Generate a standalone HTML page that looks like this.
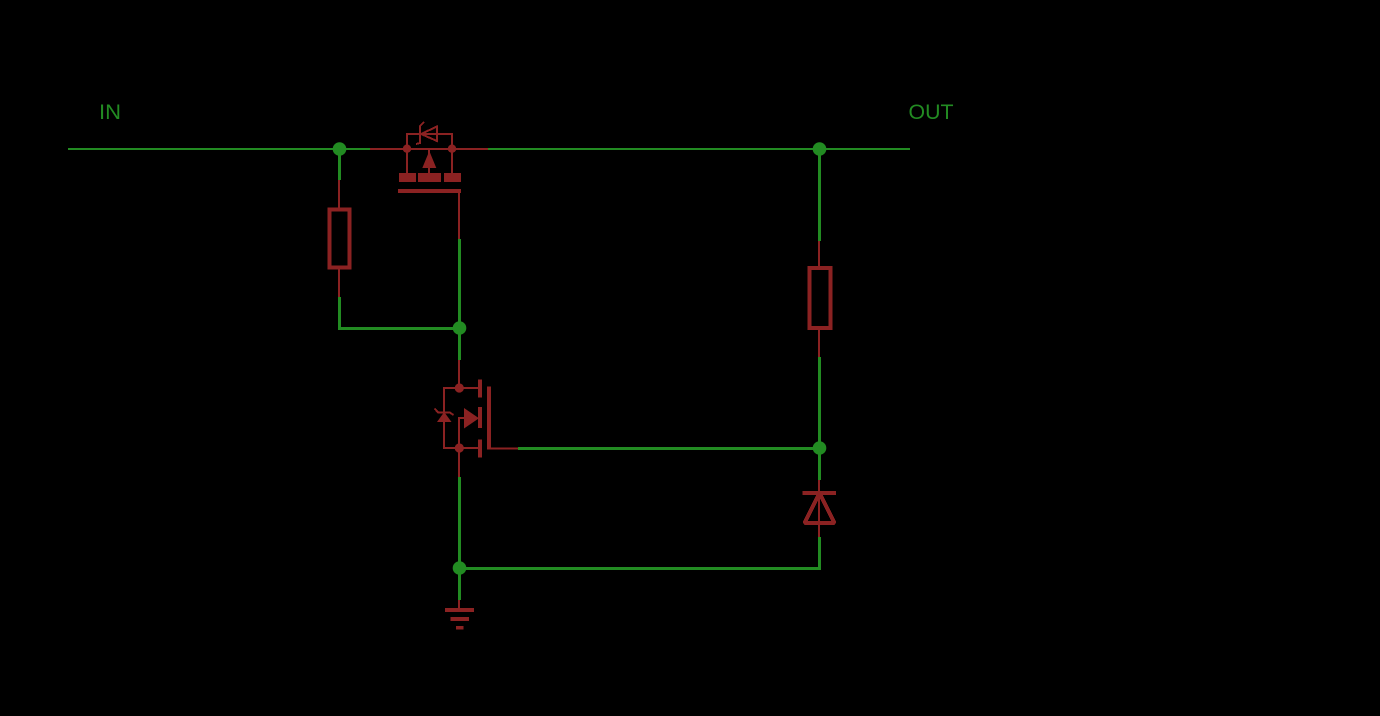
<!DOCTYPE html>
<html lang="en">
<head>
<meta charset="utf-8">
<title>Schematic</title>
<style>
html,body{margin:0;padding:0;background:#000;width:1380px;height:716px;overflow:hidden}
svg{display:block}
text{font-family:"Liberation Sans",sans-serif;font-size:21px;fill:#228b22}
</style>
</head>
<body>
<svg xmlns="http://www.w3.org/2000/svg" width="1380" height="716" viewBox="0 0 1380 716">
<rect width="1380" height="716" fill="#000"/>
<text x="99" y="119" textLength="22" lengthAdjust="spacingAndGlyphs">IN</text>
<text x="908.5" y="119" textLength="45" lengthAdjust="spacingAndGlyphs">OUT</text>

<!-- green nets -->
<g fill="none" stroke="#228b22" stroke-linecap="butt" shape-rendering="crispEdges">
  <path d="M68 149H370M488 149H910" stroke-width="2"/>
  <path d="M339.5 149V180M339.5 297V328.5H459.5M459.5 239V360M819.5 149V241M819.5 357V480M518 448.5H819.5M459.5 477V600M459.5 568.5H819.5V537" stroke-width="3"/>
</g>
<g fill="#228b22">
  <circle cx="339.5" cy="149" r="6.8"/>
  <circle cx="819.5" cy="149" r="6.8"/>
  <circle cx="459.5" cy="328" r="6.8"/>
  <circle cx="819.5" cy="448" r="6.8"/>
  <circle cx="459.5" cy="568" r="6.8"/>
</g>

<!-- red symbols -->
<g fill="none" stroke="#8b2222" stroke-width="2" shape-rendering="crispEdges">
  <!-- R1 -->
  <path d="M339 180V208M339 269V297"/>
  <rect x="329.5" y="209.5" width="20" height="58" stroke-width="4"/>
  <!-- R2 -->
  <path d="M819 241V266M819 329V357"/>
  <rect x="809.5" y="268" width="21" height="60" stroke-width="4"/>

  <!-- Top MOSFET -->
  <path d="M370 149H488"/>
  <path d="M407 173V134H452V173"/>
  <path d="M429 149V173"/>
  <path d="M421 134L437 126.5V141L421 134"/>
  <path d="M416 144L420 143V126L424 122" stroke-width="2"/>
  <path d="M398 191H461" stroke-width="4"/>
  <path d="M459 191V239"/>

  <!-- Bottom MOSFET -->
  <path d="M459 360V388M459 448V477"/>
  <path d="M478 388H444V448H478"/>
  <path d="M480 379.5V397.5M480 407V428M480 439.5V457.5" stroke-width="4"/>
  <path d="M489 386.5V449.5" stroke-width="4"/>
  <path d="M489 448.5H518"/>
  <path d="M464 418H459V448"/>
  <path d="M434.5 408.5L438.5 412.7H450L453.5 415" stroke-width="2"/>

  <!-- Zener D -->
  <path d="M819 480V537"/>
  <path d="M802.5 493H836" stroke-width="4"/>
  <path d="M804.5 523H834.5L819.5 493Z" stroke-width="4" stroke-linejoin="bevel"/>

  <!-- Ground -->
  <path d="M459 600V608"/>
</g>
<g fill="#8b2222">
  <circle cx="407" cy="148.7" r="4.2"/>
  <circle cx="452" cy="148.7" r="4.2"/>
  <polygon points="429.3,151 436.3,168 422.3,168"/>
  <rect x="399" y="173" width="17" height="9"/>
  <rect x="418" y="173" width="23" height="9"/>
  <rect x="444" y="173" width="17" height="9"/>
  <circle cx="459.3" cy="388" r="4.6"/>
  <circle cx="459.3" cy="448" r="4.6"/>
  <polygon points="464,408 479,418.3 464,428.5"/>
  <polygon points="444.2,412 451.5,422 437,422"/>
  <rect x="445" y="608" width="29" height="4"/>
  <rect x="450.5" y="617" width="18.5" height="4"/>
  <rect x="456" y="626" width="7.5" height="3.5"/>
</g>
</svg>
</body>
</html>
